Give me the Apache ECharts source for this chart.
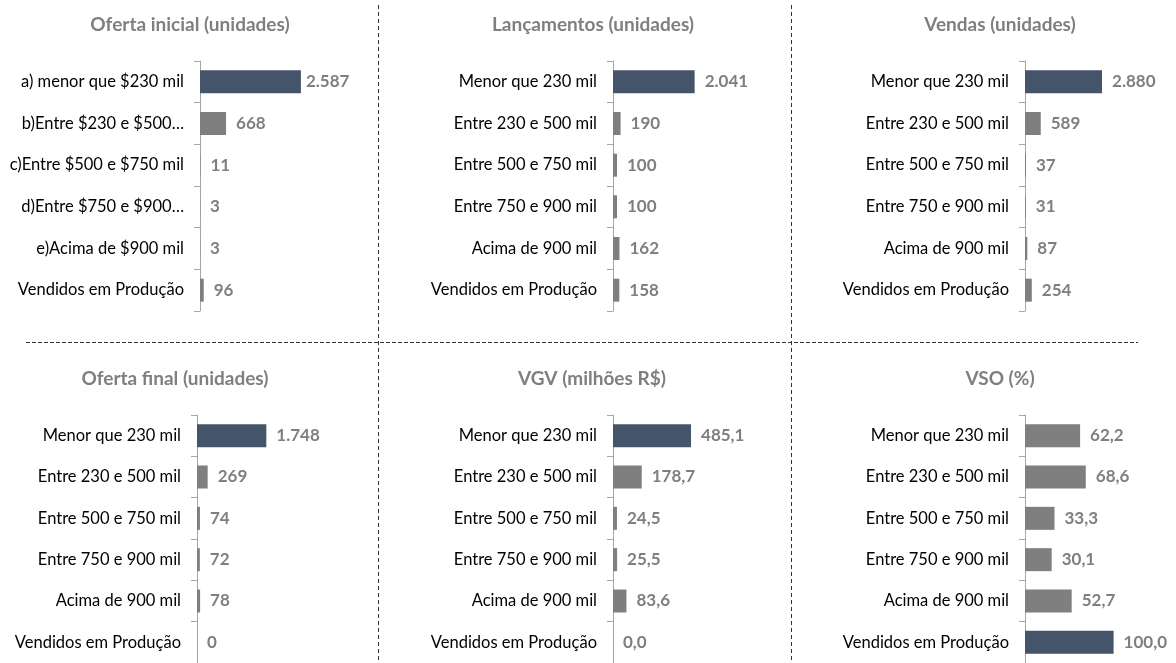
<!DOCTYPE html>
<html>
<head>
<meta charset="utf-8">
<script src="https://cdn.jsdelivr.net/npm/echarts@6/dist/echarts.min.js"></script>
<style>
  html, body { margin: 0; padding: 0; background: #fff; }
  #grafico { width: 1176px; height: 663px; }
</style>
</head>
<body>
<div id="grafico"></div>
<script>
// Categorias (rótulos do eixo)
var categoriasOferta = ['a) menor que $230 mil', 'b)Entre $230 e $500…', 'c)Entre $500 e $750 mil',
  'd)Entre $750 e $900…', 'e)Acima de $900 mil', 'Vendidos em Produção'];
var categorias = ['Menor que 230 mil', 'Entre 230 e 500 mil', 'Entre 500 e 750 mil',
  'Entre 750 e 900 mil', 'Acima de 900 mil', 'Vendidos em Produção'];

// Valores de cada painel
var ofertaInicial = [2587, 668, 11, 3, 3, 96];
var lancamentos = [2041, 190, 100, 100, 162, 158];
var vendas = [2880, 589, 37, 31, 87, 254];
var ofertaFinal = [1748, 269, 74, 72, 78, 0];
var vgv = [485.1, 178.7, 24.5, 25.5, 83.6, 0.0];
var vso = [62.2, 68.6, 33.3, 30.1, 52.7, 100.0];

// formatos brasileiros
function fmtInteiro(v) {
  return Math.round(v).toString().replace(/\B(?=(\d{3})+(?!\d))/g, '.');
}
function fmtDecimal(v) {
  return v.toFixed(1).replace('.', ',');
}

// layout de cada painel (posição do eixo, largura e máximo da escala)
var paineis = [
  { titulo: 'Oferta inicial (unidades)', cats: categoriasOferta, dados: ofertaInicial, fmt: fmtInteiro,
    cx: 185, ty: 10, left: 200, top: 61, w: 117, max: 3000, distPrimeiro: 5 },
  { titulo: 'Lançamentos (unidades)', cats: categorias, dados: lancamentos, fmt: fmtInteiro,
    cx: 588, ty: 10, left: 613, top: 61, w: 100, max: 2500 },
  { titulo: 'Vendas (unidades)', cats: categorias, dados: vendas, fmt: fmtInteiro,
    cx: 995, ty: 10, left: 1025, top: 61, w: 93.6, max: 3500 },
  { titulo: 'Oferta final (unidades)', cats: categorias, dados: ofertaFinal, fmt: fmtInteiro,
    cx: 170, ty: 364, left: 197, top: 415, w: 79.3, max: 2000 },
  { titulo: 'VGV (milhões R$)', cats: categorias, dados: vgv, fmt: fmtDecimal,
    cx: 587, ty: 364, left: 613, top: 415, w: 96.5, max: 600 },
  { titulo: 'VSO (%)', cats: categorias, dados: vso, fmt: fmtDecimal,
    cx: 995, ty: 364, left: 1025, top: 415, w: 106.3, max: 120 }
];

var fonte = 'Lato, "Noto Sans", sans-serif';
var corEscura = '#44546A';
var corCinza = '#7F7F7F';

var titles = [], grids = [], xAxes = [], yAxes = [], series = [];

paineis.forEach(function (p, i) {
  var maior = Math.max.apply(null, p.dados);
  titles.push({
    text: p.titulo,
    left: p.cx,
    top: p.ty,
    textAlign: 'center',
    textStyle: { fontFamily: fonte, fontSize: 19, fontWeight: 'bold', color: '#7F7F7F' }
  });
  grids.push({ left: p.left, top: p.top, width: p.w, height: 250 });
  xAxes.push({ gridIndex: i, type: 'value', min: 0, max: p.max, show: false });
  yAxes.push({
    gridIndex: i,
    type: 'category',
    inverse: true,
    data: p.cats,
    axisLine: { show: true, lineStyle: { color: '#A6A6A6', width: 1 } },
    axisTick: { show: true, length: 6, lineStyle: { color: '#A6A6A6' } },
    axisLabel: { margin: 16, fontFamily: fonte, fontSize: 16.5, color: '#000' }
  });
  var itens = p.dados.map(function (v, k) {
    var item = { value: v };
    if (k === 0 && p.distPrimeiro != null) item.label = { distance: p.distPrimeiro };
    return item;
  });
  series.push({
    type: 'bar',
    xAxisIndex: i,
    yAxisIndex: i,
    barWidth: 23,
    data: itens,
    itemStyle: {
      color: function (d) { return d.value === maior ? corEscura : corCinza; }
    },
    label: {
      show: true,
      position: 'right',
      distance: 10,
      fontFamily: fonte,
      fontSize: 17,
      fontWeight: 'bold',
      color: '#7F7F7F',
      formatter: function (d) { return p.fmt(d.value); }
    },
    silent: true
  });
});

// linhas tracejadas que separam os painéis
var tracejado = { stroke: '#333', lineWidth: 1, lineDash: [4, 3] };
var graficos = [
  { type: 'line', shape: { x1: 378.5, y1: 5, x2: 378.5, y2: 663 }, style: tracejado, silent: true },
  { type: 'line', shape: { x1: 791.5, y1: 5, x2: 791.5, y2: 663 }, style: tracejado, silent: true },
  { type: 'line', shape: { x1: 26, y1: 342.5, x2: 1138, y2: 342.5 }, style: { stroke: '#333', lineWidth: 1, lineDash: [4, 2] }, silent: true }
];

var chart = echarts.init(document.getElementById('grafico'), null, { renderer: 'canvas' });
chart.setOption({
  animation: false,
  backgroundColor: '#fff',
  title: titles,
  grid: grids,
  xAxis: xAxes,
  yAxis: yAxes,
  series: series,
  graphic: graficos
});
</script>
</body>
</html>
